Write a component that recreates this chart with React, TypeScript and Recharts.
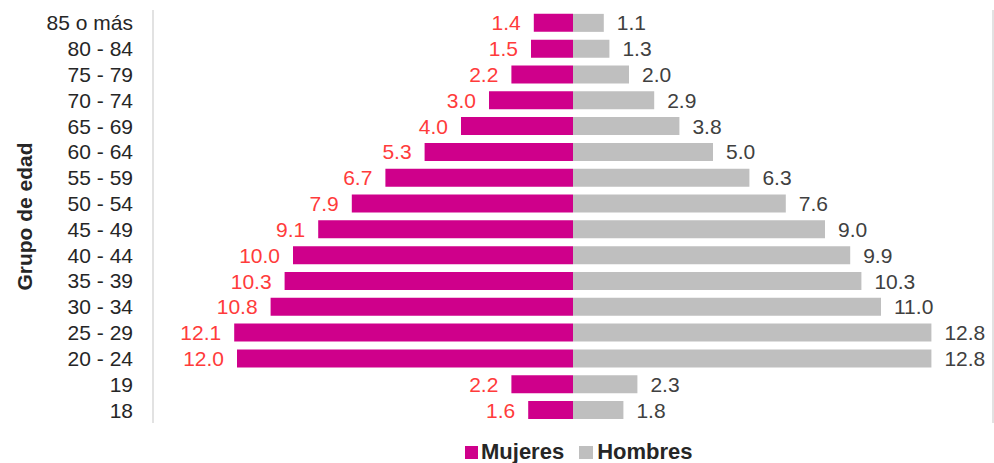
import React from "react";
import { BarChart, Bar, XAxis, YAxis, CartesianGrid, Legend, LabelList } from "recharts";

const grupos = ["85 o más", "80 - 84", "75 - 79", "70 - 74", "65 - 69", "60 - 64", "55 - 59", "50 - 54", "45 - 49", "40 - 44", "35 - 39", "30 - 34", "25 - 29", "20 - 24", "19", "18"];
const mujeres = [1.4, 1.5, 2.2, 3.0, 4.0, 5.3, 6.7, 7.9, 9.1, 10.0, 10.3, 10.8, 12.1, 12.0, 2.2, 1.6];
const hombres = [1.1, 1.3, 2.0, 2.9, 3.8, 5.0, 6.3, 7.6, 9.0, 9.9, 10.3, 11.0, 12.8, 12.8, 2.3, 1.8];
const xTicks = [-15, -10, -5, 0, 5, 10, 15];

const data = grupos.map((g, i) => ({ grupo: g, Mujeres: -mujeres[i], Hombres: hombres[i] }));

const FONT = "'Liberation Sans', Arial, sans-serif";
const MAGENTA = "#CF008B";
const GRAY = "#BFBFBF";
const RED = "#FF3B3B";

const MujLabel = (props: any) => {
  const { x, y, width, height, value } = props;
  const left = Math.min(x, x + width);
  return (
    <text x={left - 13} y={y + height / 2} dy="0.36em" textAnchor="end" fill={RED} fontSize={21} fontFamily={FONT}>
      {Math.abs(value).toFixed(1)}
    </text>
  );
};

const HomLabel = (props: any) => {
  const { x, y, width, height, value } = props;
  const right = Math.max(x, x + width);
  return (
    <text x={right + 13} y={y + height / 2} dy="0.36em" textAnchor="start" fill="#404040" fontSize={21} fontFamily={FONT}>
      {Number(value).toFixed(1)}
    </text>
  );
};

const LegendContent = () => (
  <div style={{ display: "flex", alignItems: "center", fontFamily: FONT, fontWeight: "bold", fontSize: 22, color: "#262626", lineHeight: "22px" }}>
    <span style={{ display: "inline-block", width: 13, height: 13, background: MAGENTA, marginRight: 3 }} />
    <span>Mujeres</span>
    <span style={{ display: "inline-block", width: 14, height: 13, background: GRAY, marginLeft: 15, marginRight: 4 }} />
    <span>Hombres</span>
  </div>
);

const YTitle = (props: any) => {
  const vb = props.viewBox || {};
  const cy = (vb.y ?? 10) + (vb.height ?? 413) / 2;
  return (
    <text x={24} y={cy} transform={`rotate(-90, 24, ${cy})`} textAnchor="middle" dy="0.36em" fontFamily={FONT} fontWeight="bold" fontSize={21} fill="#262626">
      Grupo de edad
    </text>
  );
};

export default function App() {
  return (
    <div style={{ position: "absolute", left: 0, top: 0, background: "#fff" }}>
      <BarChart
        width={994}
        height={463}
        data={data}
        layout="vertical"
        stackOffset="sign"
        barCategoryGap="15%"
        margin={{ top: 10, right: 1, left: 0, bottom: 5 }}
      >
        <CartesianGrid horizontal={false} stroke="#D9D9D9" strokeWidth={1.5} />
        <XAxis type="number" domain={[-15, 15]} ticks={xTicks} tick={false} axisLine={false} tickLine={false} height={0} allowDataOverflow />
        <YAxis
          type="category"
          dataKey="grupo"
          width={153}
          axisLine={false}
          tickLine={false}
          tickSize={0}
          tickMargin={20}
          interval={0}
          tick={{ fontSize: 21, fontFamily: FONT, fill: "#262626" }}
          label={<YTitle />}
        />
        <Legend
          verticalAlign="bottom"
          height={35}
          content={<LegendContent />}
          wrapperStyle={{ left: 465, top: 441, bottom: "auto", width: "auto" }}
        />
        <Bar dataKey="Mujeres" stackId="a" fill={MAGENTA} isAnimationActive={false}>
          <LabelList dataKey="Mujeres" content={<MujLabel />} />
        </Bar>
        <Bar dataKey="Hombres" stackId="a" fill={GRAY} isAnimationActive={false}>
          <LabelList dataKey="Hombres" content={<HomLabel />} />
        </Bar>
      </BarChart>
    </div>
  );
}
